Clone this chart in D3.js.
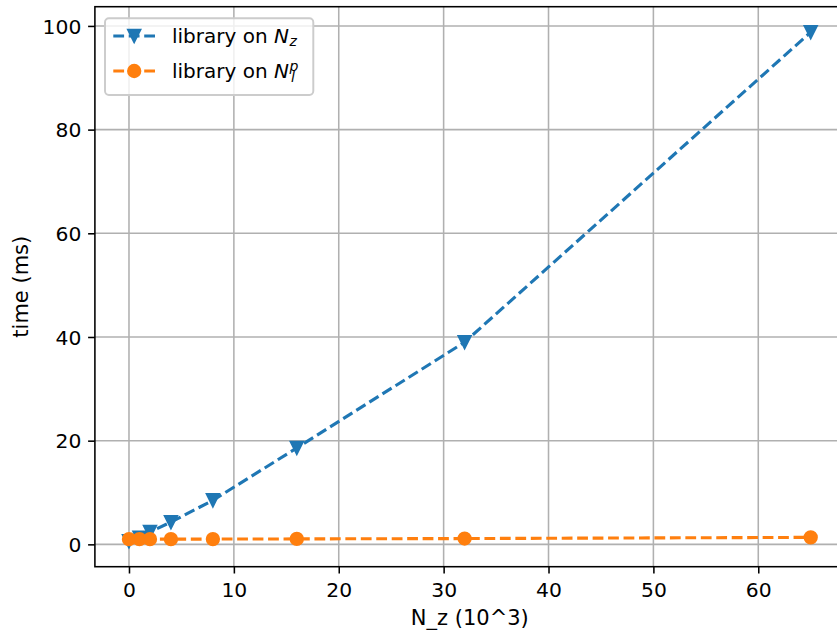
<!DOCTYPE html>
<html>
<head>
<meta charset="utf-8">
<script src="https://cdn.jsdelivr.net/npm/d3@7"></script>
<style>
  html, body { margin: 0; padding: 0; background: #fff; }
  svg { display: block; font-family: "DejaVu Sans", sans-serif; }
</style>
</head>
<body>
<svg id="chart" width="837" height="630"></svg>
<script>
// ---- data ----
const nz = [0, 1, 2, 4, 8, 16, 32, 65];                 // N_z (10^3)
const libraryOnNz = [0.6, 1.3, 2.4, 4.3, 8.5, 18.6, 39.0, 98.8];
const libraryOnNlp = [1.0, 1.0, 1.0, 1.0, 1.02, 1.05, 1.12, 1.35];
const xTicks = [0, 10, 20, 30, 40, 50, 60];
const yTicks = [0, 20, 40, 60, 80, 100];
const seriesNames = ["library on ", "library on "];
const xLabel = "N_z (10^3)";
const yLabel = "time (ms)";

(function () {
// ---- layout ----
const pL = 94.9, pR = 844.8, pT = 6.7, pB = 566.7;
const fsTick = 20.3, fsLab = 21, fsLeg = 20;
const pt = 1.944;
const blue = "#1f77b4", orange = "#ff7f0e";

const svg = d3.select("#chart");

// scales with matplotlib-like 5% margins
function padded(ext) { const s = ext[1] - ext[0]; return [ext[0] - 0.05 * s, ext[1] + 0.05 * s]; }
const x = d3.scaleLinear().domain(padded(d3.extent(nz))).range([pL, pR]);
const y = d3.scaleLinear().domain(padded(d3.extent(libraryOnNz.concat(libraryOnNlp)))).range([pB, pT]);

// grid
const grid = svg.append("g").attr("stroke", "#b0b0b0").attr("stroke-width", 0.8 * pt);
grid.selectAll("line.gx").data(xTicks).join("line").attr("class", "gx")
  .attr("x1", d => x(d)).attr("x2", d => x(d)).attr("y1", pT).attr("y2", pB);
grid.selectAll("line.gy").data(yTicks).join("line").attr("class", "gy")
  .attr("x1", pL).attr("x2", pR).attr("y1", d => y(d)).attr("y2", d => y(d));

// series
svg.append("clipPath").attr("id", "clip").append("rect")
  .attr("x", pL).attr("y", pT).attr("width", pR - pL).attr("height", pB - pT);
const plot = svg.append("g").attr("clip-path", "url(#clip)");

const line = d3.line().x(d => x(d[0])).y(d => y(d[1]));
const lw = 1.6 * pt;
const dash = [3.7 * 1.5 * pt, 1.6 * 1.5 * pt].join(",");
const r = 6.2;

function drawMarker(g, cx, cy, color, shape) {
  if (shape === "tri") {
    g.append("path").attr("d", `M${cx},${cy + r}L${cx - r},${cy - r}L${cx + r},${cy - r}Z`)
      .attr("fill", color).attr("stroke", color).attr("stroke-width", pt).attr("stroke-linejoin", "miter");
  } else {
    g.append("circle").attr("cx", cx).attr("cy", cy).attr("r", r)
      .attr("fill", color).attr("stroke", color).attr("stroke-width", pt);
  }
}
function drawSeries(vals, color, shape) {
  const pts = nz.map((v, i) => [v, vals[i]]);
  plot.append("path").datum(pts).attr("d", line).attr("fill", "none")
    .attr("stroke", color).attr("stroke-width", lw).attr("stroke-dasharray", dash);
  const g = plot.append("g");
  pts.forEach(p => drawMarker(g, x(p[0]), y(p[1]), color, shape));
}
drawSeries(libraryOnNz, blue, "tri");
drawSeries(libraryOnNlp, orange, "circ");

// axes
const tickLen = 3.5 * pt;
const xAxis = svg.append("g").attr("transform", `translate(0,${pB})`)
  .call(d3.axisBottom(x).tickValues(xTicks).tickSize(tickLen).tickPadding(tickLen).tickFormat(d3.format("d")));
xAxis.selectAll("text").attr("dy", "0").attr("y", 30.8);
const yAxis = svg.append("g").attr("transform", `translate(${pL},0)`)
  .call(d3.axisLeft(y).tickValues(yTicks).tickSize(tickLen).tickPadding(tickLen).tickFormat(d3.format("d")));
yAxis.selectAll("text").attr("dy", "0.36em");
[xAxis, yAxis].forEach(a => {
  a.select(".domain").remove();
  a.selectAll(".tick line").attr("stroke", "#000").attr("stroke-width", 0.8 * pt);
  a.selectAll("text").attr("fill", "#000").style("font-size", fsTick + "px").style("font-family", "DejaVu Sans");
});

// spines
svg.append("rect").attr("x", pL).attr("y", pT).attr("width", pR - pL).attr("height", pB - pT)
  .attr("fill", "none").attr("stroke", "#000").attr("stroke-width", 0.8 * pt);

// axis labels
svg.append("text").attr("x", (pL + pR) / 2).attr("y", 625).attr("text-anchor", "middle")
  .style("font-size", fsLab + "px").text(xLabel);
svg.append("text").attr("transform", `translate(28,${(pT + pB) / 2}) rotate(-90)`)
  .attr("text-anchor", "middle").style("font-size", fsLab + "px").text(yLabel);

// legend
const lg = svg.append("g");
lg.append("rect").attr("x", 105).attr("y", 18.3).attr("width", 208.3).attr("height", 76.7)
  .attr("rx", 3.9).attr("ry", 3.9).attr("fill", "#fff").attr("fill-opacity", 0.8)
  .attr("stroke", "#cccccc").attr("stroke-width", pt);
const rows = [{ c: 36, color: blue, shape: "tri" }, { c: 71, color: orange, shape: "circ" }];
const sfs = fsLeg * 0.7;
rows.forEach((row, i) => {
  lg.append("line").attr("x1", 113.3).attr("x2", 155).attr("y1", row.c).attr("y2", row.c)
    .attr("stroke", row.color).attr("stroke-width", lw).attr("stroke-dasharray", dash);
  drawMarker(lg, 134.2, row.c, row.color, row.shape);
  const t = lg.append("text").attr("x", 172).attr("y", row.c + 7.3).style("font-size", fsLeg + "px")
    .attr("xml:space", "preserve");
  t.append("tspan").text(seriesNames[i]);
  t.append("tspan").style("font-style", "italic").text("N");
  if (i === 0) {
    t.append("tspan").attr("dy", 2.8).attr("dx", 0.5).style("font-style", "italic")
      .style("font-size", sfs + "px").text("z");
  } else {
    t.append("tspan").attr("dy", -7.6).attr("dx", 0.5).style("font-style", "italic")
      .style("font-size", sfs + "px").text("p");
    t.append("tspan").attr("dy", 11).attr("dx", -0.52 * sfs).style("font-style", "italic")
      .style("font-size", sfs + "px").text("l");
  }
});
})();
</script>
</body>
</html>
